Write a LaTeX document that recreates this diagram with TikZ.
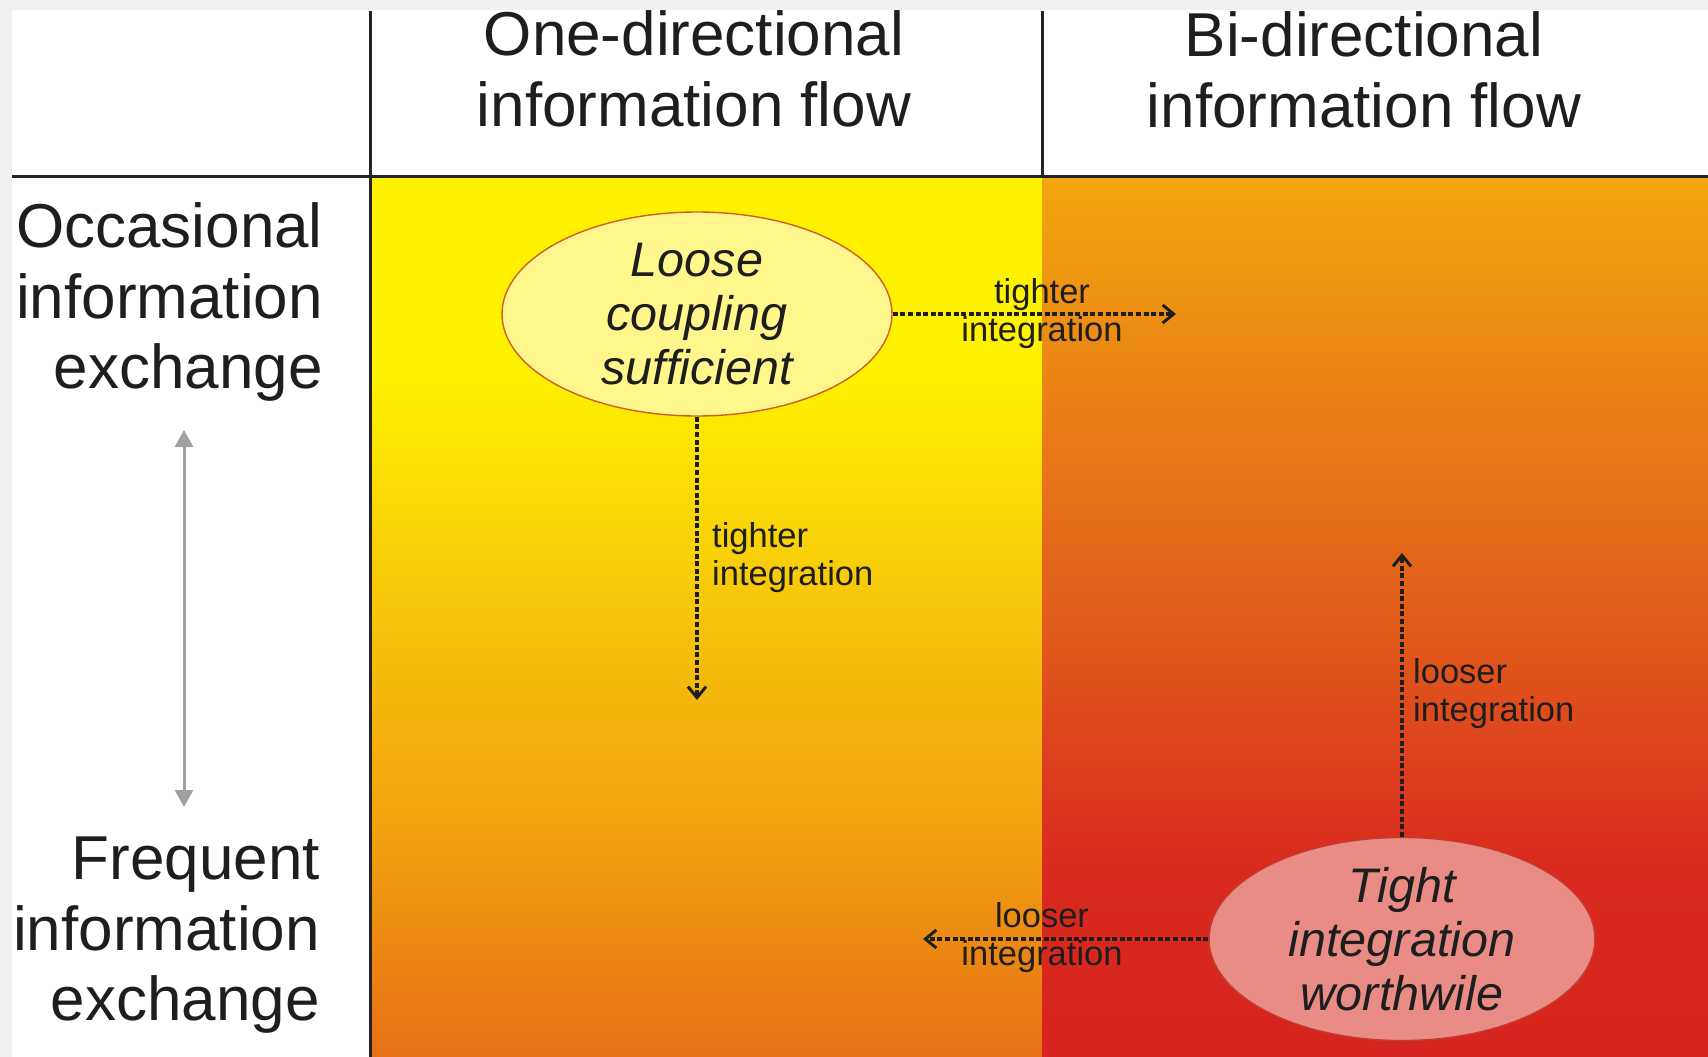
\documentclass[tikz,border=0pt]{standalone}
\usepackage{fontspec}
\setmainfont{Liberation Sans}
\usetikzlibrary{shapes.geometric,arrows.meta}
\definecolor{ink}{RGB}{30,30,30}
\definecolor{frame}{RGB}{35,35,35}
\definecolor{shadowgray}{RGB}{240,240,240}
\definecolor{lcA}{RGB}{255,242,0}
\definecolor{lcB}{RGB}{246,196,10}
\definecolor{lcC}{RGB}{240,160,15}
\definecolor{lcD}{RGB}{232,112,22}
\definecolor{rcA}{RGB}{242,166,14}
\definecolor{rcB}{RGB}{232,122,22}
\definecolor{rcC}{RGB}{224,85,28}
\definecolor{rcD}{RGB}{217,42,30}
\definecolor{rcE}{RGB}{214,36,30}
\definecolor{loosefill}{RGB}{255,247,140}
\definecolor{looseedge}{RGB}{205,95,40}
\definecolor{tightfill}{RGB}{234,140,134}
\definecolor{tightedge}{RGB}{195,60,50}
\definecolor{axisgray}{RGB}{160,160,160}
\pgfdeclareverticalshading{leftcol}{100bp}{color(0bp)=(lcD); color(25bp)=(lcD); color(37.5bp)=(lcC); color(50bp)=(lcB); color(64bp)=(lcA); color(75bp)=(lcA); color(100bp)=(lcA)}
\pgfdeclareverticalshading{rightcol}{100bp}{color(0bp)=(rcE); color(25bp)=(rcE); color(36bp)=(rcD); color(47.5bp)=(rcC); color(60bp)=(rcB); color(75bp)=(rcA); color(100bp)=(rcA)}
\tikzset{
  header/.style={inner sep=0pt, align=center, text=ink, font=\fontsize{62}{70.5}\selectfont},
  rowlabel/.style={inner sep=0pt, align=right, anchor=east, text=ink, font=\fontsize{62}{70.5}\selectfont},
  bubble/.style={ellipse, inner sep=0pt, align=center, text=ink, line width=1.4pt, font=\fontsize{48.5}{54}\selectfont\itshape},
  smalllabel/.style={inner sep=0pt, text=ink, font=\fontsize{34.5}{38}\selectfont},
  flow/.style={draw=ink, line width=3.2pt, dash pattern=on 5pt off 2.6pt, -{Straight Barb[length=11pt,width=18pt,line width=3pt]}},
  gridline/.style={draw=frame, line width=3pt},
  axisarrow/.style={draw=axisgray, line width=3pt, {Triangle[length=17pt,width=18pt]}-{Triangle[length=17pt,width=18pt]}}
}
\begin{document}
\begin{tikzpicture}[x=1pt,y=-1pt]
\useasboundingbox (0,0) rectangle (1708,1057);
% background
\fill[shadowgray] (0,0) rectangle (1708,1057);
\fill[white] (12,10) rectangle (1708,1057);
% coloured columns
\shade[shading=leftcol] (370,176) rectangle (1042,1057);
\shade[shading=rightcol] (1042,176) rectangle (1708,1057);
% grid lines
\draw[gridline] (12,176) -- (1708,176);
\draw[gridline] (370,11) -- (370,1057);
\draw[gridline] (1042,11) -- (1042,176);
% headers
\node[header] (hone) at (694,69) {One-directional\\information flow};
\node[header] (hbi) at (1364,70) {Bi-directional\\information flow};
% row labels
\node[rowlabel] (occ) at (323,302) {Occasional\\information\\exchange};
\node[rowlabel] (freq) at (320,935.5) {Frequent\\information\\exchange};
% axis arrow
\coordinate (axtop) at (184,430);
\coordinate (axbot) at (184,807);
\draw[axisarrow] (axtop) -- (axbot);
% ellipses
\node[bubble, draw=looseedge, fill=loosefill, minimum width=390pt, minimum height=204pt] (loose) at (697,314) {Loose\\coupling\\sufficient};
\node[bubble, draw=tightedge, fill=tightfill, minimum width=386pt, minimum height=200pt] (tight) at (1402,939) {Tight\\integration\\worthwile};
% arrow end points
\coordinate (rightend) at (1176,314);
\coordinate (downend) at (697,700);
\coordinate (upend) at (1402,553);
\coordinate (leftend) at (923,939);
% arrows
\draw[flow] (loose.east) -- (rightend);
\draw[flow] (loose.south) -- (downend);
\draw[flow] (tight.north) -- (upend);
\draw[flow] (tight.west) -- (leftend);
% arrow labels
\node[smalllabel, align=center] (lbltr) at (1042,314) {tighter\\integration};
\node[smalllabel, align=left, anchor=west] (lbldown) at (712,558) {tighter\\integration};
\node[smalllabel, align=left, anchor=west] (lblup) at (1413,694) {looser\\integration};
\node[smalllabel, align=center] (lblleft) at (1042,937.5) {looser\\integration};
\end{tikzpicture}
\end{document}
